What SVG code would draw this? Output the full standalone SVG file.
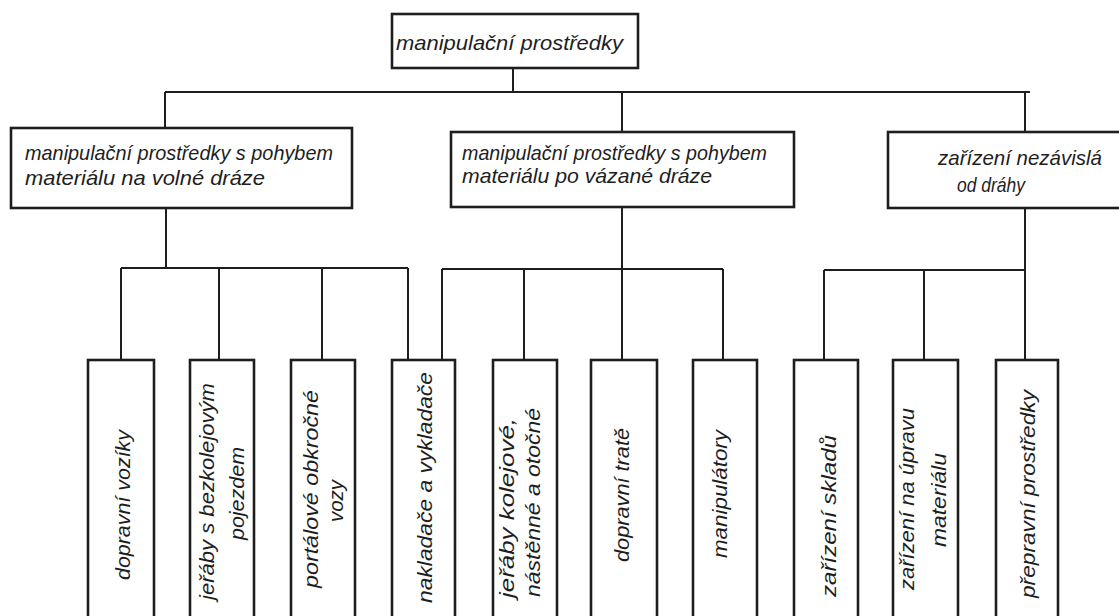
<svg xmlns="http://www.w3.org/2000/svg" width="1119" height="616" viewBox="0 0 1119 616">
<style>
.box{fill:#fff;stroke:#1e1e1e;stroke-width:2.6}
.ln{fill:none;stroke:#1e1e1e;stroke-width:2}
.t{font-family:"Liberation Sans","DejaVu Sans",sans-serif;font-style:italic;font-size:21px;fill:#1e1e1e}
.v{font-family:"Liberation Sans","DejaVu Sans",sans-serif;font-style:italic;font-size:21px;fill:#1e1e1e}
</style>
<rect width="1119" height="616" fill="#fff"/>
<g id="connectors">
<path class="ln" d="M513,68V92M165,92H1030M165,92V128M622,92V132M1025,92V132"/>
<path class="ln" d="M166,208V268M121,268H408M121,268V360M219,268V360M322,268V360M408,268V360"/>
<path class="ln" d="M622,207V360M442,269H723M442,269V360M524,269V360M723,269V360"/>
<path class="ln" d="M1025,208V360M824,270H1025M824,270V360M924,270V360"/>
</g>
<g id="n-root">
<rect class="box" x="392" y="14" width="246" height="54"/>
<text class="t" x="396" y="50" textLength="227" lengthAdjust="spacingAndGlyphs">manipulační prostředky</text>
</g>
<g id="n-volna">
<rect class="box" x="11" y="128" width="341" height="80"/>
<text class="t" x="25" y="160" textLength="308" lengthAdjust="spacingAndGlyphs">manipulační prostředky s pohybem</text>
<text class="t" x="25" y="185" textLength="240" lengthAdjust="spacingAndGlyphs">materiálu na volné dráze</text>
</g>
<g id="n-vazana">
<rect class="box" x="451" y="132" width="343" height="75"/>
<text class="t" x="462" y="160" textLength="305" lengthAdjust="spacingAndGlyphs">manipulační prostředky s pohybem</text>
<text class="t" x="462" y="183" textLength="250" lengthAdjust="spacingAndGlyphs">materiálu po vázané dráze</text>
</g>
<g id="n-nezavisla">
<rect class="box" x="888" y="132" width="245" height="76"/>
<text class="t" x="938" y="165" textLength="164" lengthAdjust="spacingAndGlyphs">zařízení nezávislá</text>
<text class="t" x="957" y="192" textLength="68" lengthAdjust="spacingAndGlyphs">od dráhy</text>
</g>
<g id="b1">
<rect class="box" x="88" y="360" width="66" height="280"/>
<text class="v" transform="translate(130,580) rotate(-90)" textLength="150" lengthAdjust="spacingAndGlyphs">dopravní vozíky</text>
</g>
<g id="b2">
<rect class="box" x="190" y="360" width="64" height="280"/>
<text class="v" transform="translate(214,600) rotate(-90)" textLength="217" lengthAdjust="spacingAndGlyphs">jeřáby s bezkolejovým</text>
<text class="v" transform="translate(244,540) rotate(-90)" textLength="93" lengthAdjust="spacingAndGlyphs">pojezdem</text>
</g>
<g id="b3">
<rect class="box" x="291" y="360" width="64" height="280"/>
<text class="v" transform="translate(318,588) rotate(-90)" textLength="198" lengthAdjust="spacingAndGlyphs">portálové obkročné</text>
<text class="v" transform="translate(343,522) rotate(-90)" textLength="42" lengthAdjust="spacingAndGlyphs">vozy</text>
</g>
<g id="b4">
<rect class="box" x="392" y="360" width="63" height="280"/>
<text class="v" transform="translate(432,603) rotate(-90)" textLength="231" lengthAdjust="spacingAndGlyphs">nakladače a vykladače</text>
</g>
<g id="b5">
<rect class="box" x="493" y="360" width="64" height="280"/>
<text class="v" transform="translate(514,598) rotate(-90)" textLength="180" lengthAdjust="spacingAndGlyphs">jeřáby kolejové,</text>
<text class="v" transform="translate(540,597) rotate(-90)" textLength="189" lengthAdjust="spacingAndGlyphs">nástěnné a otočné</text>
</g>
<g id="b6">
<rect class="box" x="591" y="360" width="66" height="280"/>
<text class="v" transform="translate(629,562) rotate(-90)" textLength="134" lengthAdjust="spacingAndGlyphs">dopravní tratě</text>
</g>
<g id="b7">
<rect class="box" x="693" y="360" width="64" height="280"/>
<text class="v" transform="translate(727,558) rotate(-90)" textLength="128" lengthAdjust="spacingAndGlyphs">manipulátory</text>
</g>
<g id="b8">
<rect class="box" x="794" y="360" width="64" height="280"/>
<text class="v" transform="translate(836,597) rotate(-90)" textLength="162" lengthAdjust="spacingAndGlyphs">zařízení skladů</text>
</g>
<g id="b9">
<rect class="box" x="893" y="360" width="65" height="280"/>
<text class="v" transform="translate(914,590) rotate(-90)" textLength="182" lengthAdjust="spacingAndGlyphs">zařízení na úpravu</text>
<text class="v" transform="translate(946,547) rotate(-90)" textLength="94" lengthAdjust="spacingAndGlyphs">materiálu</text>
</g>
<g id="b10">
<rect class="box" x="996" y="360" width="62" height="280"/>
<text class="v" transform="translate(1035,598) rotate(-90)" textLength="208" lengthAdjust="spacingAndGlyphs">přepravní prostředky</text>
</g>
</svg>
